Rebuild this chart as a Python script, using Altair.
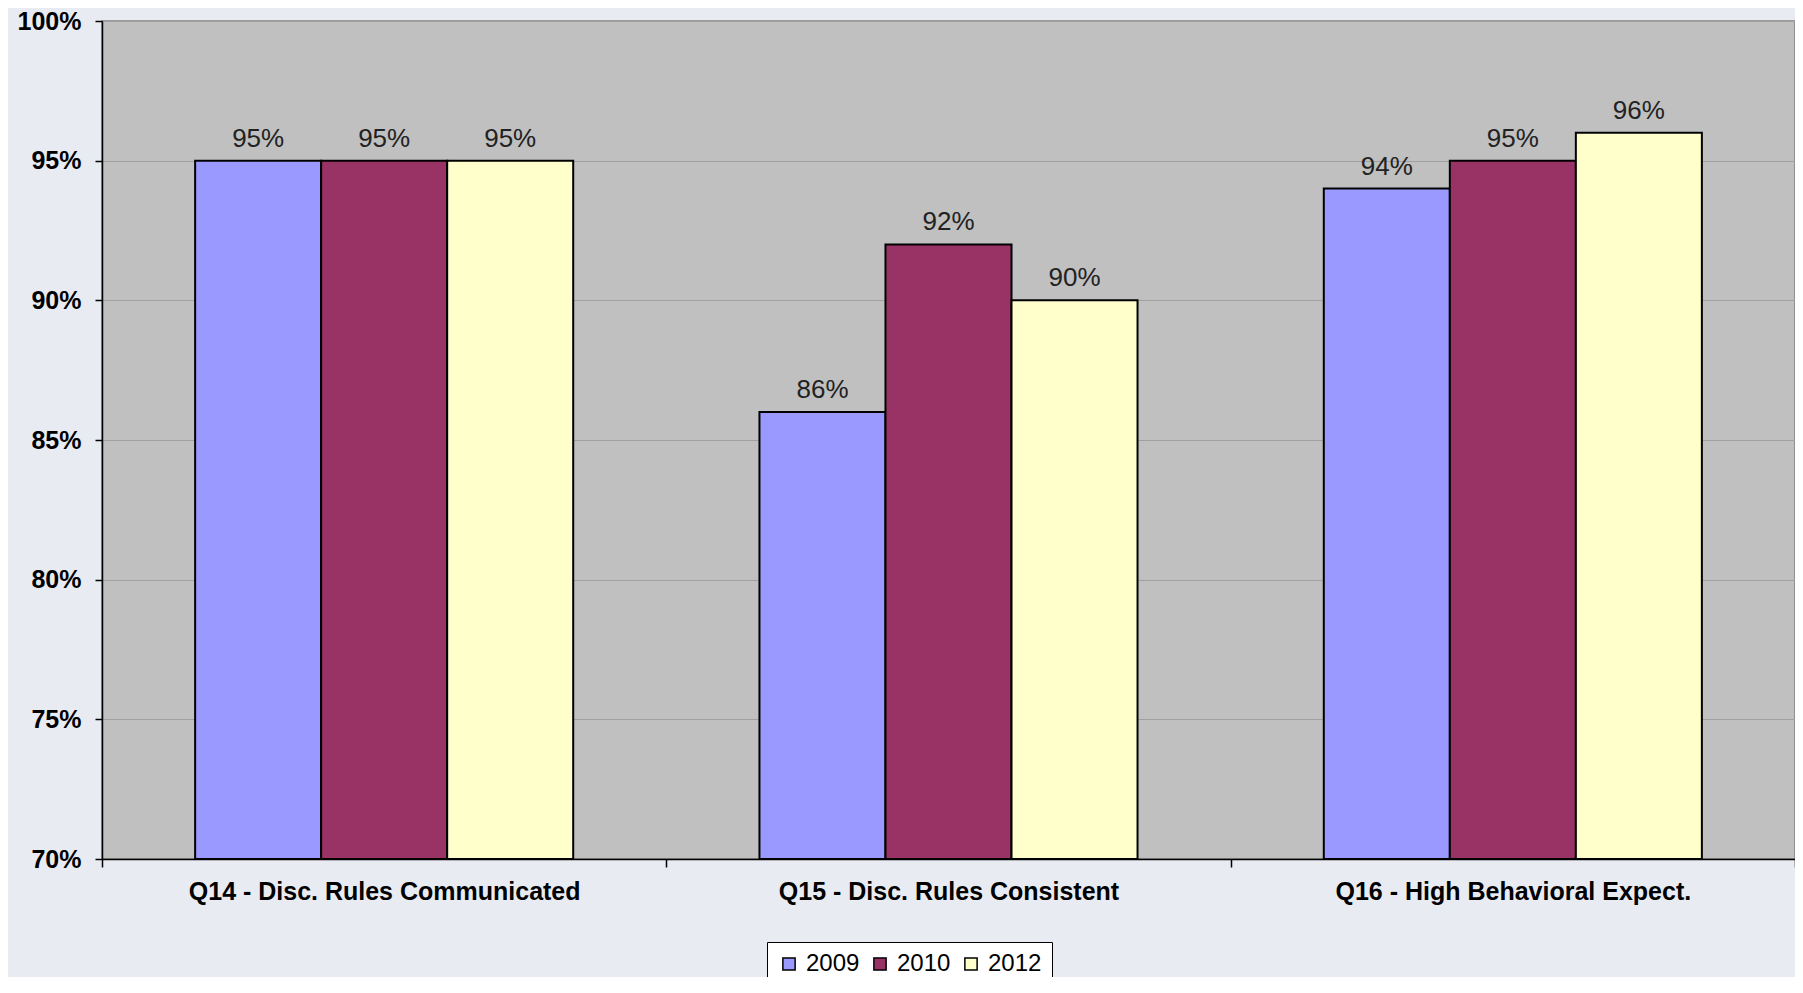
import altair as alt
import pandas as pd

categories = ["Q14 - Disc. Rules Communicated", "Q15 - Disc. Rules Consistent", "Q16 - High Behavioral Expect."]
years = ["2009", "2010", "2012"]
values_2009 = [95, 86, 94]
values_2010 = [95, 92, 95]
values_2012 = [95, 90, 96]
colors = ["#9999ff", "#993366", "#ffffcc"]

rows = []
for yr, vals in zip(years, [values_2009, values_2010, values_2012]):
    for c, v in zip(categories, vals):
        rows.append({"category": c, "year": yr, "value": v, "base": 70, "label": f"{v}%"})
df = pd.DataFrame(rows)

FONT = "Liberation Sans"

x = alt.X("category:N", sort=categories, title=None,
          scale=alt.Scale(paddingInner=0, paddingOuter=0),
          axis=alt.Axis(labelAngle=0, labelFont=FONT, labelFontSize=25, labelFontWeight="bold",
                        labelColor="black", labelPadding=12, labelLimit=0, tickBand="extent", tickSize=8,
                        tickColor="black", tickWidth=1.5, domainColor="black", domainWidth=1.5,
                        zindex=1))
xoff = alt.XOffset("year:N", sort=years, scale=alt.Scale(paddingInner=0, paddingOuter=0.739))

base = alt.Chart(df)

bars = base.mark_bar(stroke="black", strokeWidth=2).encode(
    x=x,
    xOffset=xoff,
    y=alt.Y("value:Q", title=None,
            scale=alt.Scale(domain=[70, 100], zero=False, nice=False),
            axis=alt.Axis(values=[70, 75, 80, 85, 90, 95, 100], labelExpr="datum.value + '%'",
                          labelFont=FONT, labelFontSize=25, labelFontWeight="bold", labelColor="black",
                          labelPadding=14, tickSize=7, tickColor="black", tickWidth=1.5,
                          domainColor="black", domainWidth=1.5,
                          grid=True, gridColor="#a0a0a0", gridWidth=1.2)),
    y2="base:Q",
    color=alt.Color("year:N", sort=years,
                    scale=alt.Scale(domain=years, range=colors),
                    legend=alt.Legend(title=None, orient="none", legendX=665, legendY=921,
                                      direction="horizontal", fillColor="white", strokeColor="black",
                                      padding=10, labelFont=FONT, labelFontSize=24, labelColor="black",
                                      symbolType="square", symbolSize=150, symbolStrokeColor="black",
                                      symbolStrokeWidth=1.5, labelOffset=5, columnPadding=8,
                                      symbolOpacity=1)),
)

labels = base.mark_text(font=FONT, fontSize=26, color="#222222", baseline="alphabetic", dy=-14).encode(
    x=x,
    xOffset=xoff,
    y=alt.Y("value:Q"),
    text="label:N",
)

chart = alt.layer(bars, labels).properties(
    width=1693, height=838,
    autosize=alt.AutoSizeParams(type="none"),
    padding={"left": 94, "top": 13, "right": 0, "bottom": 118},
    background="#e9ebf3",
).configure_view(fill="#c0c0c0", stroke="#808080", strokeWidth=1.5)

chart.save("out.html", embed_options={"renderer": "svg", "actions": False})
